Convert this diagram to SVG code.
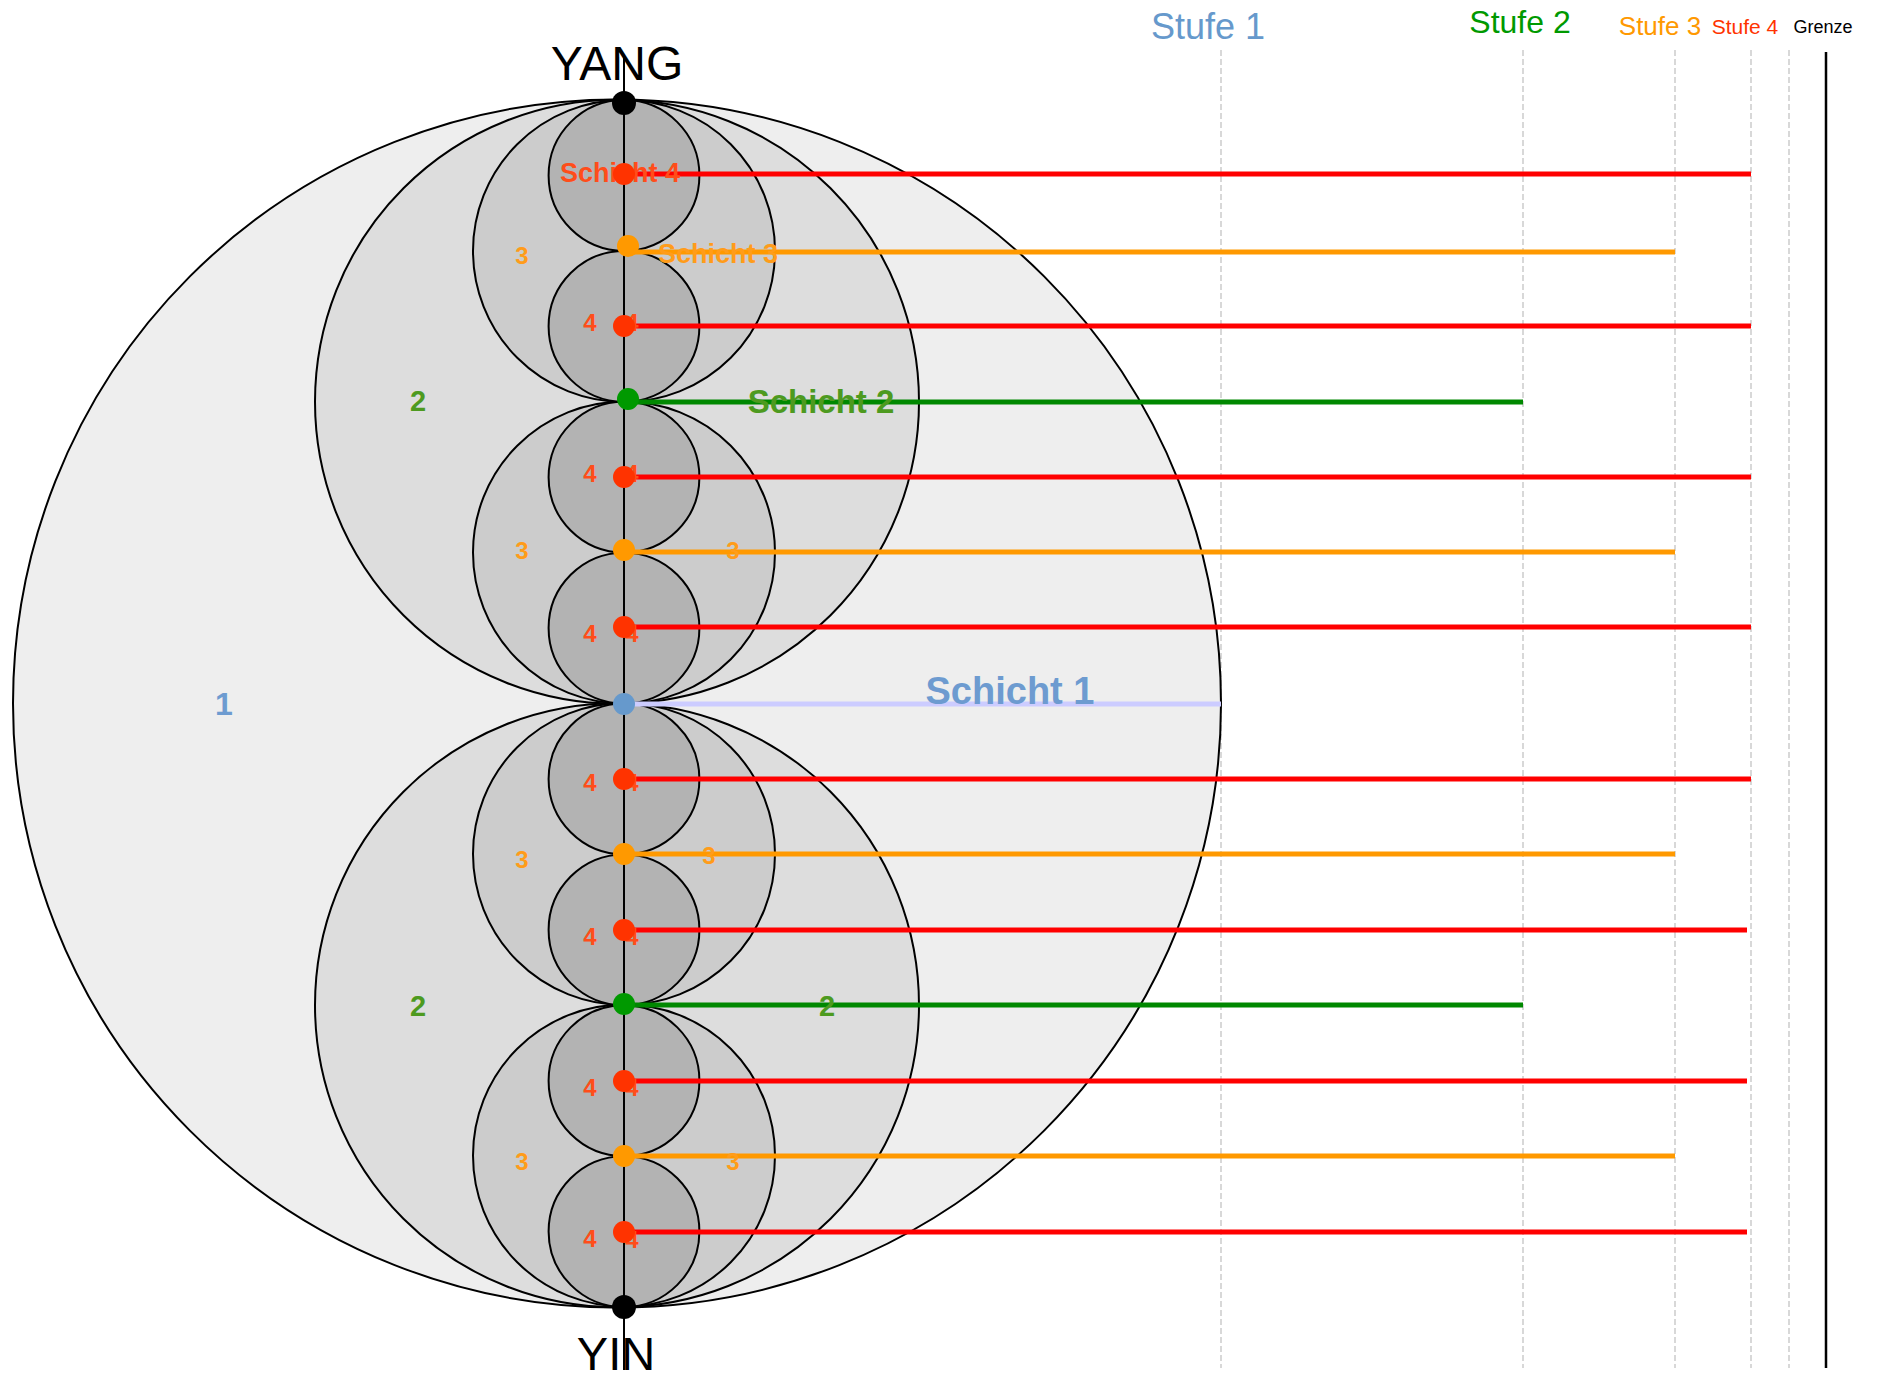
<svg xmlns="http://www.w3.org/2000/svg" width="1879" height="1378" viewBox="0 0 1879 1378">
<style>
text{font-family:"Liberation Sans",Arial,sans-serif}
.c{stroke:#000;stroke-width:2}
.c1{fill:#eeeeee}.c2{fill:#dddddd}.c3{fill:#cccccc}.c4{fill:#b3b3b3}
.grid{stroke:#cccccc;stroke-width:1.5;stroke-dasharray:6,3}
.lr{stroke:#ff0000;stroke-width:5}
.lo{stroke:#ff9900;stroke-width:5}
.lg{stroke:#008800;stroke-width:5}
.lb{stroke:#ccccff;stroke-width:5}
.t4{fill:#ff4d1a;font-weight:bold;font-size:24px;text-anchor:middle}
.t3{fill:#ff9c1a;font-weight:bold;font-size:24px;text-anchor:middle}
.t2{fill:#4d9a1f;font-weight:bold;font-size:29px;text-anchor:middle}
.t1{fill:#6d9bd0;font-weight:bold;font-size:32px;text-anchor:middle}
.dr{fill:#ff3300}.do{fill:#ff9900}.dg{fill:#009900}.db{fill:#6699cc}.dk{fill:#000}
</style>
<g id="grid">
<line class="grid" x1="1221" y1="50" x2="1221" y2="1368"/>
<line class="grid" x1="1523" y1="50" x2="1523" y2="1368"/>
<line class="grid" x1="1675" y1="50" x2="1675" y2="1368"/>
<line class="grid" x1="1751" y1="50" x2="1751" y2="1368"/>
<line class="grid" x1="1789" y1="50" x2="1789" y2="1368"/>
<line id="grenze" x1="1826" y1="52" x2="1826" y2="1368" stroke="#000" stroke-width="2.5"/>
<text x="1208" y="39" font-size="36" fill="#6699cc" text-anchor="middle">Stufe 1</text>
<text x="1520" y="33" font-size="32" fill="#009900" text-anchor="middle">Stufe 2</text>
<text x="1660" y="35" font-size="26" fill="#ff9900" text-anchor="middle">Stufe 3</text>
<text x="1745" y="34" font-size="21" fill="#ff3300" text-anchor="middle">Stufe 4</text>
<text x="1823" y="33" font-size="18" fill="#000" text-anchor="middle">Grenze</text>
</g>
<g id="circles">
<circle id="level1" class="c c1" cx="617" cy="703.5" r="604"/>
<circle id="level2-top" class="c c2" cx="617" cy="401.75" r="302"/>
<circle id="level2-bottom" class="c c2" cx="617" cy="1005.25" r="302"/>
<circle class="c c3" cx="624" cy="251" r="151"/>
<circle class="c c3" cx="624" cy="552.5" r="151"/>
<circle class="c c3" cx="624" cy="854" r="151"/>
<circle class="c c3" cx="624" cy="1155.5" r="151"/>
<circle class="c c4" cx="624" cy="175.4" r="75.4"/>
<circle class="c c4" cx="624" cy="326.3" r="75.4"/>
<circle class="c c4" cx="624" cy="477.2" r="75.4"/>
<circle class="c c4" cx="624" cy="628.1" r="75.4"/>
<circle class="c c4" cx="624" cy="779" r="75.4"/>
<circle class="c c4" cx="624" cy="929.8" r="75.4"/>
<circle class="c c4" cx="624" cy="1080.7" r="75.4"/>
<circle class="c c4" cx="624" cy="1231.6" r="75.4"/>
</g>
<line id="axis" x1="624" y1="55" x2="624" y2="1370" stroke="#000" stroke-width="2"/>
<g id="connectors">
<line class="lb" x1="624" y1="704" x2="1221" y2="704"/>
<line class="lg" x1="624" y1="402" x2="1523" y2="402"/>
<line class="lg" x1="624" y1="1005" x2="1523" y2="1005"/>
<line class="lo" x1="624" y1="252" x2="1675" y2="252"/>
<line class="lo" x1="624" y1="552" x2="1675" y2="552"/>
<line class="lo" x1="624" y1="854" x2="1675" y2="854"/>
<line class="lo" x1="624" y1="1156" x2="1675" y2="1156"/>
<line class="lr" x1="624" y1="174" x2="1751" y2="174"/>
<line class="lr" x1="624" y1="326" x2="1751" y2="326"/>
<line class="lr" x1="624" y1="477" x2="1751" y2="477"/>
<line class="lr" x1="624" y1="627" x2="1751" y2="627"/>
<line class="lr" x1="624" y1="779" x2="1751" y2="779"/>
<line class="lr" x1="624" y1="930" x2="1747" y2="930"/>
<line class="lr" x1="624" y1="1081" x2="1747" y2="1081"/>
<line class="lr" x1="624" y1="1232" x2="1747" y2="1232"/>
</g>
<g id="labels">
<text class="t1" x="224" y="715">1</text>
<text class="t1" x="1010" y="704" style="font-size:38px">Schicht 1</text>
<text class="t2" x="418" y="411">2</text>
<text class="t2" x="821" y="413" style="font-size:33px">Schicht 2</text>
<text class="t2" x="418" y="1016">2</text>
<text class="t2" x="827" y="1016">2</text>
<text class="t3" x="522" y="264">3</text>
<text class="t3" x="718" y="263" style="font-size:27px">Schicht 3</text>
<text class="t3" x="522" y="559">3</text>
<text class="t3" x="733" y="559">3</text>
<text class="t3" x="522" y="868">3</text>
<text class="t3" x="709" y="864">3</text>
<text class="t3" x="522" y="1170">3</text>
<text class="t3" x="733" y="1170">3</text>
<text class="t4" x="620" y="182" style="font-size:27px">Schicht 4</text>
<text class="t4" x="590" y="331">4</text><text class="t4" x="632" y="331">4</text>
<text class="t4" x="590" y="482">4</text><text class="t4" x="632" y="482">4</text>
<text class="t4" x="590" y="642">4</text><text class="t4" x="632" y="642">4</text>
<text class="t4" x="590" y="791">4</text><text class="t4" x="632" y="791">4</text>
<text class="t4" x="590" y="945">4</text><text class="t4" x="632" y="945">4</text>
<text class="t4" x="590" y="1096">4</text><text class="t4" x="632" y="1096">4</text>
<text class="t4" x="590" y="1247">4</text><text class="t4" x="632" y="1248">4</text>
<text x="617" y="80" font-size="48" text-anchor="middle" fill="#000">YANG</text>
<text x="616" y="1370" font-size="47" text-anchor="middle" fill="#000">YIN</text>
</g>
<g id="nodes">
<circle id="yang" class="dk" cx="624" cy="103" r="12"/>
<circle id="yin" class="dk" cx="624" cy="1307" r="12"/>
<circle id="n1" class="db" cx="624" cy="704" r="11"/>
<circle id="n2a" class="dg" cx="628" cy="399" r="11"/>
<circle id="n2b" class="dg" cx="624" cy="1004" r="11"/>
<circle id="n3a" class="do" cx="628" cy="246" r="11"/>
<circle id="n3b" class="do" cx="624" cy="550" r="11"/>
<circle id="n3c" class="do" cx="624" cy="854" r="11"/>
<circle id="n3d" class="do" cx="624" cy="1156" r="11"/>
<circle id="n4a" class="dr" cx="624" cy="174" r="11"/>
<circle id="n4b" class="dr" cx="624" cy="326" r="11"/>
<circle id="n4c" class="dr" cx="624" cy="477" r="11"/>
<circle id="n4d" class="dr" cx="624" cy="627" r="11"/>
<circle id="n4e" class="dr" cx="624" cy="779" r="11"/>
<circle id="n4f" class="dr" cx="624" cy="930" r="11"/>
<circle id="n4g" class="dr" cx="624" cy="1081" r="11"/>
<circle id="n4h" class="dr" cx="624" cy="1232" r="11"/>
</g>
</svg>
